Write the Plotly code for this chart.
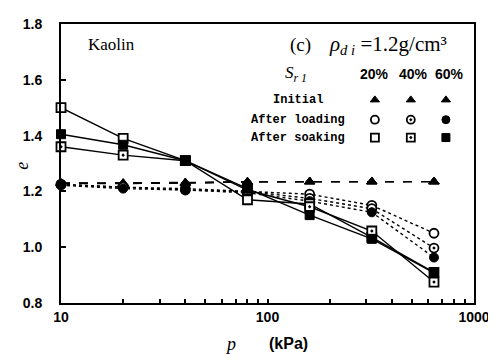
import plotly.graph_objects as go

# ---- data ----
p_kpa = [10, 20, 40, 80, 160, 320, 640]

init_20 = [1.23, 1.23, 1.232, 1.235, 1.235, 1.235, 1.235]
init_40 = [1.23, 1.228, 1.23, 1.234, 1.235, 1.235, 1.235]
init_60 = [1.228, 1.228, 1.23, 1.234, 1.235, 1.235, 1.235]

load_20 = [1.225, 1.215, 1.21, 1.20, 1.19, 1.15, 1.05]
load_40 = [1.225, 1.215, 1.205, 1.20, 1.175, 1.138, 0.997]
load_60 = [1.222, 1.21, 1.205, 1.195, 1.165, 1.125, 0.963]

soak_20 = [1.50, 1.39, 1.31, 1.17, 1.155, 1.035, 0.91]
soak_40 = [1.36, 1.33, 1.31, 1.205, 1.145, 1.058, 0.875]
soak_60 = [1.405, 1.367, 1.31, 1.21, 1.115, 1.03, 0.908]

sr_labels = ["20%", "40%", "60%"]
row_labels = ["Initial", "After loading", "After soaking"]
x_ticks = [10, 20, 30, 40, 50, 60, 70, 80, 90, 100, 200, 300, 400, 500, 600, 700, 800, 900, 1000]
x_tick_text = ["10"] + [""] * 8 + ["100"] + [""] * 8 + ["1000"]
y_ticks = [0.8, 1.0, 1.2, 1.4, 1.6, 1.8]

BLACK = "black"
fig = go.Figure()


def marker_style(sym, size):
    # open shapes: white fill with black outline; "-dot" variants add a centre dot
    if sym.endswith("open"):
        return dict(symbol=sym.replace("-open", ""), size=size, color="white",
                    line=dict(color=BLACK, width=1.8))
    if sym.endswith("dot"):
        return dict(symbol=sym, size=size, color="white",
                    line=dict(color=BLACK, width=1.8))
    return dict(symbol=sym, size=size, color=BLACK, line=dict(color=BLACK, width=1))


series = [
    (init_20, "triangle-up", "dash"), (init_40, "triangle-up", "dash"), (init_60, "triangle-up", "dash"),
    (load_20, "circle-open", "dot"), (load_40, "circle-dot", "dot"), (load_60, "circle", "dot"),
    (soak_20, "square-open", "solid"), (soak_40, "square-dot", "solid"), (soak_60, "square", "solid"),
]
for vals, sym, dash in series:
    fig.add_trace(go.Scatter(
        x=p_kpa, y=vals, mode="lines+markers",
        line=dict(color=BLACK, width=1.4, dash=dash),
        marker=marker_style(sym, 9),
        showlegend=False, cliponaxis=False,
    ))

# ---- legend keys (overlay axes in plot fractions) ----
key_x = [0.760, 0.847, 0.932]
key_y = [0.728, 0.657, 0.593]
key_syms = [["triangle-up"] * 3, ["circle-open", "circle-dot", "circle"], ["square-open", "square-dot", "square"]]
for r in range(3):
    for c in range(3):
        fig.add_trace(go.Scatter(
            x=[key_x[c]], y=[key_y[r]], xaxis="x2", yaxis="y2", mode="markers",
            marker=marker_style(key_syms[r][c], 8),
            showlegend=False,
        ))

tickfont = dict(family="Liberation Sans", size=14, color=BLACK, weight="bold")
# page body has an 8px margin: shift margins so the plot lands where the reference's does
fig.update_layout(
    width=496, height=361,
    margin=dict(l=53, r=30, t=8, b=66),
    paper_bgcolor="white", plot_bgcolor="white",
    xaxis=dict(type="log", range=[1, 3], tickvals=x_ticks, ticktext=x_tick_text,
               ticks="inside", ticklen=4, tickwidth=1.5, tickcolor=BLACK,
               showline=True, linecolor=BLACK, linewidth=2, mirror=True,
               showgrid=False, zeroline=False, tickfont=tickfont),
    yaxis=dict(range=[0.8, 1.8], tickvals=y_ticks, tickformat=".1f",
               ticks="inside", ticklen=5, tickwidth=1.5, tickcolor=BLACK,
               showline=True, linecolor=BLACK, linewidth=2, mirror=True,
               showgrid=False, zeroline=False, tickfont=tickfont, ticklabelstandoff=14),
    xaxis2=dict(range=[0, 1], overlaying="x", visible=False, fixedrange=True),
    yaxis2=dict(range=[0, 1], overlaying="y", visible=False, fixedrange=True),
)

serif = "Liberation Serif"
mono = dict(family="Liberation Mono", size=12, color=BLACK, weight="bold")
ann = [
    dict(x=0.123, y=0.926, text="Kaolin", font=dict(family=serif, size=17, color=BLACK)),
    dict(x=0.580, y=0.926, text="(c)", font=dict(family=serif, size=19, color=BLACK)),
    dict(x=0.644, y=0.926, xanchor="left", text="<i>ρ</i><sub><i>d i</i></sub> =1.2g/cm³",
         font=dict(family=serif, size=21, color=BLACK)),
    dict(x=0.569, y=0.822, text="<i>S</i><sub><i>r 1</i></sub>",
         font=dict(family=serif, size=17, color=BLACK)),
]
for i, lab in enumerate(sr_labels):
    ann.append(dict(x=[0.760, 0.853, 0.940][i], y=0.822, text=lab,
                    font=dict(family="Liberation Sans Narrow, Liberation Sans", size=14, color=BLACK, weight="bold")))
for i, lab in enumerate(row_labels):
    ann.append(dict(x=0.574, y=key_y[i], text=lab, font=mono))
ann.append(dict(x=0.41, y=-0.146, text="<i>p</i>", font=dict(family=serif, size=18, color=BLACK)))
ann.append(dict(x=0.552, y=-0.146, text="(kPa)",
                font=dict(family="Liberation Sans", size=16, color=BLACK, weight="bold")))
ann.append(dict(x=-0.095, y=0.491, text="<i>e</i>", textangle=-90,
                font=dict(family=serif, size=18, color=BLACK)))
for a in ann:
    a.setdefault("xanchor", "center")
    a.update(xref="paper", yref="paper", showarrow=False, yanchor="middle")
fig.update_layout(annotations=ann)

fig.write_html("out.html")
